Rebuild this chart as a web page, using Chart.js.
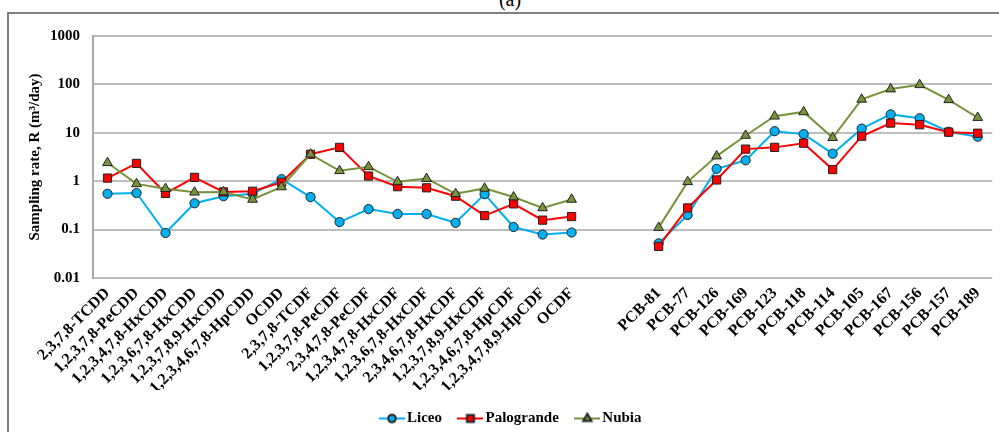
<!DOCTYPE html>
<html>
<head>
<meta charset="utf-8">
<script src="https://cdn.jsdelivr.net/npm/chart.js@4/dist/chart.umd.min.js"></script>
<style>
  html, body { margin: 0; padding: 0; background: #fff; overflow: hidden; }
  body { width: 999px; height: 432px; position: relative; }
  #tag { position: absolute; top: -12px; left: 0; width: 1020px; text-align: center;
         font: 20px 'Liberation Serif', 'Times New Roman', serif; color: #000; }
  #frame { position: absolute; left: 7px; top: 12px; width: 992px; height: 420px;
           border-top: 2px solid #7f7f7f; border-left: 2px solid #7f7f7f; }
  #wrap { position: absolute; left: 0; top: 0; width: 990px; height: 422px; }
</style>
</head>
<body>
<div id="tag">(a)</div>
<div id="frame"><div id="wrap"><canvas id="chart"></canvas></div></div>
<script>
const pcddLabels = ['2,3,7,8-TCDD', '1,2,3,7,8-PeCDD', '1,2,3,4,7,8-HxCDD', '1,2,3,6,7,8-HxCDD',
  '1,2,3,7,8,9-HxCDD', '1,2,3,4,6,7,8-HpCDD', 'OCDD', '2,3,7,8-TCDF', '1,2,3,7,8-PeCDF',
  '2,3,4,7,8-PeCDF', '1,2,3,4,7,8-HxCDF', '1,2,3,6,7,8-HxCDF', '2,3,4,6,7,8-HxCDF',
  '1,2,3,7,8,9-HxCDF', '1,2,3,4,6,7,8-HpCDF', '1,2,3,4,7,8,9-HpCDF', 'OCDF'];
const gapLabels = ['', ''];
const pcbLabels = ['PCB-81', 'PCB-77', 'PCB-126', 'PCB-169', 'PCB-123', 'PCB-118', 'PCB-114',
  'PCB-105', 'PCB-167', 'PCB-156', 'PCB-157', 'PCB-189'];

const liceoPcdd = [0.55, 0.57, 0.085, 0.35, 0.49, 0.55, 1.1, 0.47, 0.143, 0.265, 0.21, 0.21, 0.138, 0.54, 0.113, 0.079, 0.087];
const liceoPcb = [0.052, 0.2, 1.8, 2.7, 10.8, 9.4, 3.7, 12.2, 24, 20, 10.5, 8.3];
const palograndePcdd = [1.16, 2.33, 0.56, 1.2, 0.6, 0.62, 0.95, 3.6, 5.0, 1.28, 0.77, 0.73, 0.49, 0.195, 0.34, 0.157, 0.186];
const palograndePcb = [0.045, 0.28, 1.06, 4.6, 5.0, 6.1, 1.74, 8.5, 15.9, 14.7, 10.3, 9.8];
const nubiaPcdd = [2.4, 0.88, 0.7, 0.59, 0.6, 0.42, 0.76, 3.6, 1.64, 1.98, 0.97, 1.13, 0.55, 0.71, 0.47, 0.28, 0.42];
const nubiaPcb = [0.11, 0.97, 3.3, 8.8, 22, 27, 7.9, 49, 80, 98, 48, 20.6];

const yTicks = [0.01, 0.1, 1, 10, 100, 1000];
const gapValues = gapLabels.map(() => null);
const labels = pcddLabels.concat(gapLabels, pcbLabels);

const font = "'Liberation Serif', 'Times New Roman', serif";

// little line+marker icon for the legend
function legendIcon(color, style, radius) {
  const c = document.createElement('canvas');
  c.width = 26; c.height = 14;
  const g = c.getContext('2d');
  g.strokeStyle = color; g.lineWidth = 2;
  g.beginPath(); g.moveTo(0, 7); g.lineTo(26, 7); g.stroke();
  g.fillStyle = color; g.strokeStyle = '#222';
  Chart.helpers.drawPoint(g, { pointStyle: style, radius: radius, rotation: 0, borderWidth: 1 }, 13, 7);
  return c;
}

const series = [
  { name: 'Liceo', color: '#00B0F0', style: 'circle', r: 4.6, pcdd: liceoPcdd, pcb: liceoPcb, order: 3 },
  { name: 'Palogrande', color: '#FF0000', style: 'rect', r: 5.8, pcdd: palograndePcdd, pcb: palograndePcb, order: 2 },
  { name: 'Nubia', color: '#77933C', style: 'triangle', r: 5.6, pcdd: nubiaPcdd, pcb: nubiaPcb, order: 1 }
];
const icons = series.map(s => legendIcon(s.color, s.style, s.r - 0.8));

// nudge the legend a little to the right, as in the original figure
const legendShift = {
  id: 'legendShift',
  afterLayout(chart) {
    chart.legend.left += 11;
    chart.legend.right += 11;
  }
};

new Chart(document.getElementById('chart'), {
  type: 'line',
  data: {
    labels: labels,
    datasets: series.map(s => ({
      label: s.name,
      data: s.pcdd.concat(gapValues, s.pcb),
      borderColor: s.color,
      backgroundColor: s.color,
      borderWidth: 2,
      pointStyle: s.style,
      pointRadius: s.r,
      pointBackgroundColor: s.color,
      pointBorderColor: '#222',
      pointBorderWidth: 1,
      tension: 0,
      order: s.order
    }))
  },
  plugins: [legendShift],
  options: {
    responsive: true,
    maintainAspectRatio: false,
    animation: false,
    layout: { padding: { top: 15, right: 4, left: 0, bottom: 0 } },
    plugins: {
      tooltip: { enabled: false },
      legend: {
        position: 'bottom',
        labels: {
          usePointStyle: true,
          pointStyleWidth: 15,
          padding: 21,
          color: '#000',
          font: { family: font, size: 15, weight: 'bold' },
          sort: (a, b) => a.datasetIndex - b.datasetIndex,
          generateLabels: (chart) => {
            const items = Chart.defaults.plugins.legend.labels.generateLabels(chart);
            items.forEach(it => { it.pointStyle = icons[it.datasetIndex]; });
            return items;
          }
        }
      }
    },
    scales: {
      x: {
        offset: true,
        grid: { display: false, drawTicks: false },
        border: { display: false },
        ticks: {
          autoSkip: false, maxRotation: 45, minRotation: 45, padding: 6,
          color: '#000', font: { family: font, size: 16, weight: 'bold' }
        },
        afterFit: (s) => { s.height = 112; }
      },
      y: {
        type: 'logarithmic',
        min: 0.01,
        max: 1000,
        afterBuildTicks: (s) => { s.ticks = yTicks.map(v => ({ value: v })); },
        grid: { color: '#BEBEBE', lineWidth: 2, drawTicks: false },
        border: { color: '#A8A8A8', width: 2 },
        ticks: {
          padding: 13, color: '#000',
          font: { family: font, size: 15, weight: 'bold' },
          callback: (v) => String(v)
        },
        title: {
          display: true,
          text: 'Sampling rate, R (m³/day)',
          color: '#000',
          padding: { top: 17, bottom: 0 },
          font: { family: font, size: 15, weight: 'bold' }
        },
        afterFit: (s) => { s.width = 84; }
      }
    }
  }
});
</script>
</body>
</html>
